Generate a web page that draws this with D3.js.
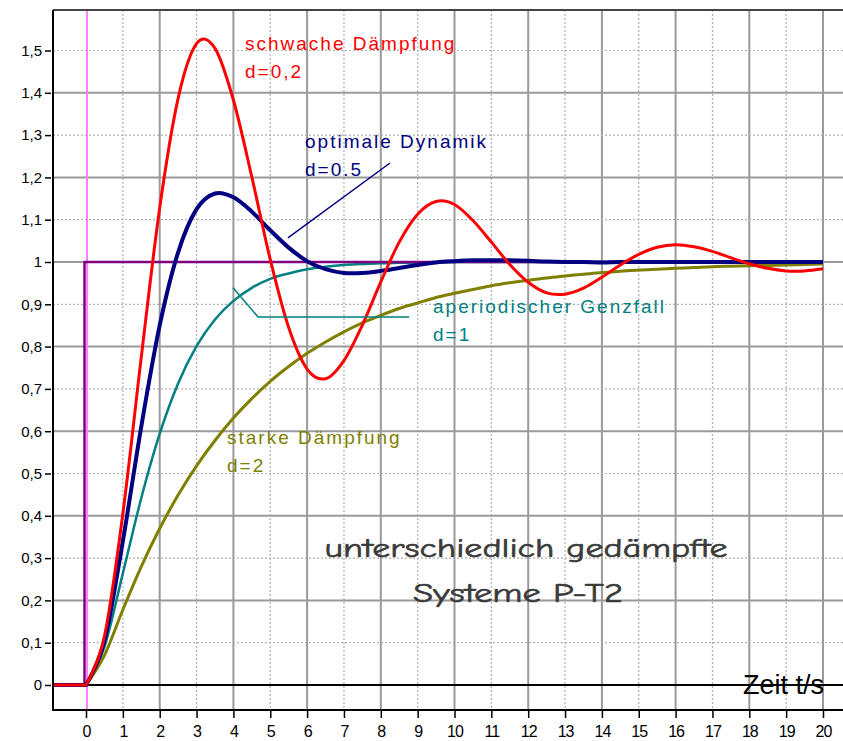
<!DOCTYPE html>
<html>
<head>
<meta charset="utf-8">
<script src="https://cdn.jsdelivr.net/npm/d3@7"></script>
<style>
  body { margin: 0; background: #fff; }
  svg { display: block; }
  .tick text { font-family: Arial, "Liberation Sans", sans-serif; fill: #000; }
</style>
</head>
<body>
<script>
// Zeitachse (s) und Sprungantworten
const timeSteps = [0, 0.5, 1, 1.5, 2, 2.5, 3, 3.5, 4, 4.5, 5, 5.5, 6, 6.5, 7, 7.5, 8, 8.5, 9, 9.5,
  10, 10.5, 11, 11.5, 12, 12.5, 13, 13.5, 14, 14.5, 15, 15.5, 16, 16.5, 17, 17.5, 18, 18.5, 19, 19.5, 20]

// d = 0,2
const schwach = [0, 0.115, 0.405, 0.775, 1.128, 1.387, 1.516, 1.505, 1.383, 1.201, 1.006, 0.845, 0.747, 0.724,
  0.767, 0.851, 0.953, 1.047, 1.113, 1.143, 1.136, 1.098, 1.047, 0.994, 0.952, 0.927, 0.924, 0.938, 0.964, 0.993,
  1.018, 1.035, 1.041, 1.036, 1.025, 1.010, 0.996, 0.985, 0.979, 0.979, 0.984]
// d = 0.5
const optimal = [0, 0.104, 0.340, 0.611, 0.850, 1.023, 1.125, 1.162, 1.153, 1.119, 1.075, 1.034, 1.002, 0.983,
  0.974, 0.974, 0.979, 0.986, 0.993, 0.999, 1.002, 1.004, 1.004, 1.004, 1.003, 1.001, 1.000, 1.000, 0.999, 1.000,
  1.000, 1.000, 1.000, 1.000, 1.000, 1.000, 1.000, 1.000, 1.000, 1.000, 1.000]
// d = 1
const aperiodisch = [0, 0.090, 0.264, 0.442, 0.594, 0.713, 0.801, 0.864, 0.908, 0.939, 0.960, 0.973, 0.983, 0.989,
  0.993, 0.995, 0.997, 0.998, 0.999, 0.999, 1.000, 1.000, 1.000, 1.000, 1.000, 1.000, 1.000, 1.000, 1.000, 1.000,
  1.000, 1.000, 1.000, 1.000, 1.000, 1.000, 1.000, 1.000, 1.000, 1.000, 1.000]
// d = 2
const stark = [0, 0.070, 0.178, 0.280, 0.370, 0.449, 0.518, 0.578, 0.631, 0.677, 0.718, 0.753, 0.784, 0.811,
  0.835, 0.856, 0.874, 0.890, 0.903, 0.916, 0.926, 0.935, 0.944, 0.951, 0.957, 0.962, 0.967, 0.971, 0.975, 0.978,
  0.981, 0.983, 0.985, 0.987, 0.989, 0.990, 0.991, 0.992, 0.993, 0.994, 0.995]

// Eingangssprung
const stepTimes = [0, 0, 20]
const stepValues = [0, 1, 1]

const xTicks = d3.range(0, 21)
const yTickValues = [0, 0.1, 0.2, 0.3, 0.4, 0.5, 0.6, 0.7, 0.8, 0.9, 1, 1.1, 1.2, 1.3, 1.4, 1.5]
const yTickLabels = ["0", "0,1", "0,2", "0,3", "0,4", "0,5", "0,6", "0,7", "0,8", "0,9", "1", "1,1", "1,2", "1,3", "1,4", "1,5"]

const width = 843, height = 741
const frameLeft = 53, frameTop = 10, frameRight = 843, frameBottom = 710

const x = d3.scaleLinear().domain([0, 20]).range([86, 823])
const y = d3.scaleLinear().domain([0, 1]).range([685, 262])

const svg = d3.select("body").append("svg").attr("width", width).attr("height", height)

svg.append("clipPath").attr("id", "plot")
  .append("rect").attr("x", frameLeft).attr("y", frameTop)
  .attr("width", frameRight - frameLeft).attr("height", frameBottom - frameTop)

const plot = svg.append("g").attr("clip-path", "url(#plot)")

// Gitter: gerade Werte durchgezogen, ungerade gepunktet
const vGrid = d3.range(1, 22)
plot.selectAll("line.vgrid").data(vGrid).join("line")
  .attr("class", "vgrid")
  .attr("x1", d => x(d)).attr("x2", d => x(d))
  .attr("y1", frameTop).attr("y2", frameBottom)
  .attr("stroke", d => d % 2 ? "#b0b0b0" : "#9a9a9a")
  .attr("stroke-width", d => d % 2 ? 1.2 : 2)
  .attr("stroke-dasharray", d => d % 2 ? "2,2" : null)

const hGrid = d3.range(1, 16)
plot.selectAll("line.hgrid").data(hGrid).join("line")
  .attr("class", "hgrid")
  .attr("x1", frameLeft).attr("x2", frameRight)
  .attr("y1", d => y(d / 10)).attr("y2", d => y(d / 10))
  .attr("stroke", d => d % 2 ? "#b0b0b0" : "#9a9a9a")
  .attr("stroke-width", d => d % 2 ? 1.2 : 2)
  .attr("stroke-dasharray", d => d % 2 ? "2,2" : null)

// rosa Linie bei t=0 und Nulllinie
plot.append("line")
  .attr("x1", x(0) + 1).attr("x2", x(0) + 1).attr("y1", frameTop).attr("y2", frameBottom)
  .attr("stroke", "#ff80ff").attr("stroke-width", 2)
plot.append("line")
  .attr("x1", frameLeft).attr("x2", frameRight).attr("y1", y(0)).attr("y2", y(0))
  .attr("stroke", "#000").attr("stroke-width", 2)

const line = d3.line()
  .x(d => x(d[0]))
  .y(d => y(d[1]))
  .curve(d3.curveCardinal.tension(0))

function curvePath(values) {
  let pts = timeSteps.map((t, i) => [t, values[i]])
  // vor dem Sprung liegt die Antwort auf 0
  return "M" + x(-1) + "," + y(0) + "L" + line(pts).slice(1)
}

plot.append("path").attr("d", curvePath(aperiodisch))
  .attr("fill", "none").attr("stroke", "#008080").attr("stroke-width", 2.5)
plot.append("path").attr("d", curvePath(stark))
  .attr("fill", "none").attr("stroke", "#808000").attr("stroke-width", 3)

// Sprung
let stepPts = stepTimes.map((t, i) => [t, stepValues[i]])
plot.append("path")
  .attr("d", d3.line().x(d => x(d[0]) - (d[0] === 0 ? 1.5 : 0)).y(d => y(d[1]))(stepPts))
  .attr("fill", "none").attr("stroke", "#800080").attr("stroke-width", 2.5)

plot.append("path").attr("d", curvePath(optimal))
  .attr("fill", "none").attr("stroke", "#000080").attr("stroke-width", 4)
plot.append("path").attr("d", curvePath(schwach))
  .attr("fill", "none").attr("stroke", "#ff0000").attr("stroke-width", 3)

// Rahmen
svg.append("line").attr("x1", frameLeft).attr("x2", frameRight).attr("y1", frameTop).attr("y2", frameTop)
  .attr("stroke", "#444").attr("stroke-width", 2)
svg.append("line").attr("x1", frameLeft).attr("x2", frameLeft).attr("y1", frameTop).attr("y2", frameBottom + 1)
  .attr("stroke", "#000").attr("stroke-width", 2)
svg.append("line").attr("x1", frameLeft).attr("x2", frameRight).attr("y1", frameBottom).attr("y2", frameBottom)
  .attr("stroke", "#000").attr("stroke-width", 2)

// Achsen
const xAxis = svg.append("g").attr("transform", `translate(0,${frameBottom + 1})`)
  .call(d3.axisBottom(x).tickValues(xTicks).tickSize(7).tickPadding(8).tickFormat(d3.format("d")))
xAxis.select(".domain").remove()
xAxis.selectAll(".tick line").attr("stroke", "#000").attr("stroke-width", 1.5)
xAxis.selectAll(".tick text").attr("font-size", 16).attr("letter-spacing", -1)

const yAxis = svg.append("g").attr("transform", `translate(${frameLeft - 2},0)`)
  .call(d3.axisLeft(y).tickValues(yTickValues).tickSize(6).tickPadding(3).tickFormat((d, i) => yTickLabels[i]))
yAxis.select(".domain").remove()
yAxis.selectAll(".tick line").attr("stroke", "#000").attr("stroke-width", 1.5)
yAxis.selectAll(".tick text").attr("font-size", 15)

// Beschriftungen
const labels = svg.append("g")
  .attr("font-family", "Arial, 'Liberation Sans', sans-serif")
  .attr("font-size", 19)
  .attr("letter-spacing", 2)

function label(lines, px, py, color) {
  lines.forEach((s, i) => {
    labels.append("text").attr("x", px).attr("y", py + i * 27.5).attr("fill", color).text(s)
  })
}
label(["schwache Dämpfung", "d=0,2"], 245, 50, "#ff0000")
label(["optimale Dynamik", "d=0.5"], 305, 148, "#000080")
label(["aperiodischer Genzfall", "d=1"], 433, 313, "#008080")
label(["starke Dämpfung", "d=2"], 227, 444, "#808000")

// Hinweislinien
svg.append("line")
  .attr("x1", x(8.25)).attr("y1", y(1.234)).attr("x2", x(5.48)).attr("y2", y(1.057))
  .attr("stroke", "#000080").attr("stroke-width", 1.5)
svg.append("polyline")
  .attr("points", [[x(3.99), y(0.939)], [x(4.67), y(0.870)], [x(8.77), y(0.870)]].join(" "))
  .attr("fill", "none").attr("stroke", "#008080").attr("stroke-width", 1.5)

svg.append("text")
  .attr("x", 743).attr("y", 694)
  .attr("font-family", "Arial, 'Liberation Sans', sans-serif")
  .attr("font-size", 27)
  .attr("fill", "#000")
  .text("Zeit t/s")

const title = svg.append("g")
  .attr("font-family", "'Comic Sans MS', 'Comic Neue', 'DejaVu Sans', sans-serif")
  .attr("font-size", 26)
  .attr("fill", "#3a3a3a")
  .attr("stroke", "#3a3a3a")
  .attr("stroke-width", 0.6)
  .attr("text-anchor", "middle")
title.append("text").attr("x", 526).attr("y", 557)
  .attr("textLength", 403).attr("lengthAdjust", "spacingAndGlyphs")
  .text("unterschiedlich gedämpfte")
title.append("text").attr("x", 518).attr("y", 602)
  .attr("textLength", 210).attr("lengthAdjust", "spacingAndGlyphs")
  .text("Systeme P-T2")
</script>
</body>
</html>
